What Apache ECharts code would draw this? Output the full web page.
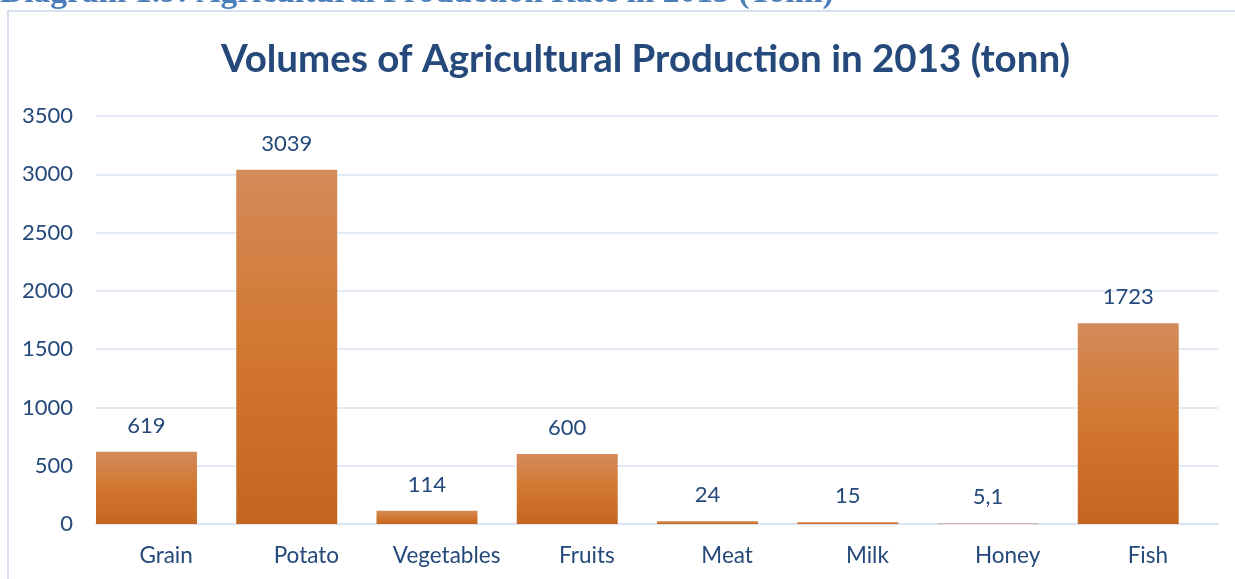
<!DOCTYPE html>
<html>
<head>
<meta charset="utf-8">
<script src="https://cdn.jsdelivr.net/npm/echarts@6/dist/echarts.min.js"></script>
<style>
html,body{margin:0;padding:0;background:#fff;}
#chart{width:1235px;height:579px;}
</style>
</head>
<body>
<div id="chart"></div>
<script>
const categories = ['Grain','Potato','Vegetables','Fruits','Meat','Milk','Honey','Fish'];
const volumes = [619, 3039, 114, 600, 24, 15, 5.1, 1723];
const yTicks = [0, 500, 1000, 1500, 2000, 2500, 3000, 3500];
const chartTitle = 'Volumes of Agricultural Production in 2013 (tonn)';
const docCaption = 'Diagram 1.9: Agricultural Production Rate in 2013 (Tonn)';

const textColor = '#24497A';
const gridColor = '#D9E3F3';
const fontFam = 'Lato, "Open Sans", sans-serif';

const chart = echarts.init(document.getElementById('chart'));
chart.setOption({
  animation: false,
  backgroundColor: '#fff',
  title: {
    text: chartTitle,
    left: 216,
    top: 35,
    textStyle: {fontFamily: fontFam, fontWeight: 'bold', fontSize: 38.5, color: textColor}
  },
  graphic: [
    {type: 'rect', shape: {x: 8, y: 11, width: 1400, height: 800},
     style: {fill: 'none', stroke: '#D5E1F2', lineWidth: 2}, silent: true},
    {type: 'text', left: 0, top: -24,
     style: {text: docCaption, font: 'bold 33.5px "Liberation Serif", "DejaVu Serif", serif', fill: '#4A7EBB'}}
  ],
  grid: {left: 96, right: 17, top: 116, bottom: 55, containLabel: false},
  xAxis: {
    type: 'category',
    data: categories,
    axisTick: {show: false},
    axisLine: {lineStyle: {color: gridColor, width: 2}},
    axisLabel: {color: textColor, fontFamily: fontFam, fontSize: 22.5, margin: 20}
  },
  yAxis: {
    type: 'value',
    min: yTicks[0],
    max: yTicks[yTicks.length - 1],
    interval: yTicks[1] - yTicks[0],
    axisLine: {show: false},
    axisTick: {show: false},
    splitLine: {lineStyle: {color: gridColor, width: 1.5}},
    axisLabel: {color: textColor, fontFamily: fontFam, fontSize: 22, margin: 23,
                formatter: v => String(v)}
  },
  series: [
    {
      type: 'bar',
      data: volumes,
      barWidth: '72%',
      barGap: '0%',
      barCategoryGap: '0%',
      itemStyle: {
        color: new echarts.graphic.LinearGradient(0, 0, 0, 1, [
          {offset: 0, color: '#D48B5A'},
          {offset: 0.5, color: '#D27730'},
          {offset: 1, color: '#C4661F'}
        ])
      },
      label: {
        show: true,
        position: 'top',
        distance: 15,
        color: textColor,
        fontFamily: fontFam,
        fontSize: 22,
        formatter: p => String(p.value).replace('.', ',')
      }
    },
    {
      type: 'bar',
      data: categories.map(() => null),
      barWidth: '28%',
      barGap: '0%',
      silent: true
    }
  ]
});
</script>
</body>
</html>
